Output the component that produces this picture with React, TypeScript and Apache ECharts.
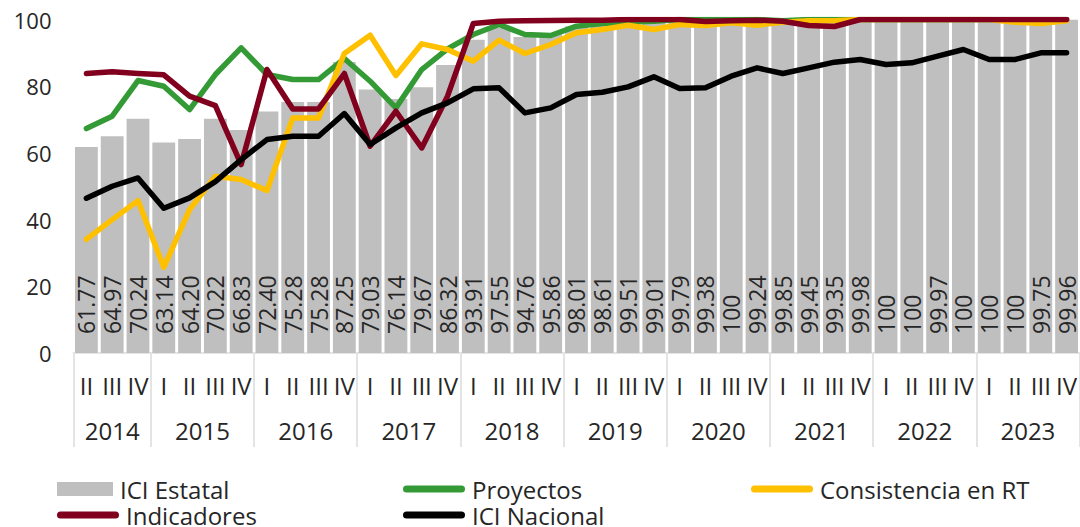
import React, { useEffect, useRef } from "react";
import * as echarts from "echarts";

const quarterLabels = [
  "II", "III", "IV",
  "I", "II", "III", "IV",
  "I", "II", "III", "IV",
  "I", "II", "III", "IV",
  "I", "II", "III", "IV",
  "I", "II", "III", "IV",
  "I", "II", "III", "IV",
  "I", "II", "III", "IV",
  "I", "II", "III", "IV",
  "I", "II", "III", "IV",
];
const yearLabels = ["2014", "2015", "2016", "2017", "2018", "2019", "2020", "2021", "2022", "2023"];

const iciEstatal = [
  61.77, 64.97, 70.24, 63.14, 64.2, 70.22, 66.83, 72.4, 75.28, 75.28, 87.25, 79.03, 76.14,
  79.67, 86.32, 93.91, 97.55, 94.76, 95.86, 98.01, 98.61, 99.51, 99.01, 99.79, 99.38, 100,
  99.24, 99.85, 99.45, 99.35, 99.98, 100, 100, 99.97, 100, 100, 100, 99.75, 99.96,
];
const proyectos = [
  67.3, 71, 81.7, 80, 73, 83.5, 91.5, 83.5, 82, 82, 88.3, 81.5, 73.5, 85, 91.2, 95.5, 98.5,
  95.5, 95.2, 98, 98.8, 99.2, 99.5, 100, 100, 100, 100, 99.6, 100, 100, 100, 100, 100, 100,
  100, 100, 100, 100, 100,
];
const consistencia = [
  34.1, 40, 45.7, 25.7, 43, 53, 52, 48.7, 70.5, 70.5, 89.8, 95.3, 83.2, 92.7, 91, 87.5, 93.8,
  89.8, 92.5, 96, 97, 98.3, 97, 98.5, 98.2, 99, 98.3, 99.2, 99.6, 99.6, 100, 100, 100, 100,
  100, 100, 99.2, 98.8, 99.6,
];
const indicadores = [
  83.8, 84.3, 83.8, 83.4, 77, 74.2, 56.5, 85, 73.2, 73.2, 83.8, 62, 72.5, 61.5, 77, 98.8,
  99.5, 99.6, 99.7, 99.8, 99.8, 100, 100, 100, 99.4, 99.6, 99.8, 99.5, 98.2, 97.9, 100, 100,
  100, 100, 100, 100, 100, 100, 100,
];
const iciNacional = [
  46.4, 50, 52.5, 43.4, 46.5, 51.4, 58, 64, 65, 65, 71.8, 62.5, 67.5, 72, 75, 79.2, 79.5, 72,
  73.5, 77.5, 78.2, 79.8, 82.8, 79.3, 79.5, 83, 85.5, 83.8, 85.5, 87.2, 88, 86.5, 87, 89, 91,
  88, 88, 90, 90,
];

const FONT = "'Open Sans', 'Noto Sans', sans-serif";
const TEXT = "#262626";
const SEP = "#e4e4e4";
const CAPSULE = "path://M3.5,0H58.5A3.5,3.5,0,0,1,58.5,7H3.5A3.5,3.5,0,0,1,3.5,0Z";

export default function App() {
  const ref = useRef<HTMLDivElement>(null);

  useEffect(() => {
    if (!ref.current) return;
    const chart = echarts.init(ref.current, null, { renderer: "svg" });

    const n = quarterLabels.length;
    const bounds: number[] = [0];
    for (let i = 1; i < n; i++) if (quarterLabels[i] === "I") bounds.push(i);
    bounds.push(n);
    const centers: number[] = [];
    for (let k = 0; k < bounds.length - 1; k++) centers.push((bounds[k] + bounds[k + 1]) / 2);

    const lineSeries = (name: string, data: number[], color: string) => ({
      name,
      type: "line",
      data,
      xAxisIndex: 0,
      yAxisIndex: 0,
      showSymbol: false,
      symbol: "none",
      color,
      itemStyle: { color },
      lineStyle: { color, width: 5.5, cap: "round", join: "round" },
    });

    const legendBase = (name: string, left: number, top: number, icon: string, w: number, h: number) => ({
      data: [name],
      left,
      top,
      icon,
      itemWidth: w,
      itemHeight: h,
      padding: 0,
      itemGap: 0,
      selectedMode: false,
      textStyle: { fontFamily: FONT, fontSize: 24, color: TEXT, lineHeight: 24, padding: [0, 0, 0, 2] },
    });

    chart.setOption({
      animation: false,
      textStyle: { fontFamily: FONT },
      grid: { left: 73.5, top: 19.5, width: 1012, height: 333.5 },
      legend: [
        legendBase("ICI Estatal", 57, 477, "rect", 56, 14),
        legendBase("Proyectos", 403, 477, CAPSULE, 62, 7),
        legendBase("Consistencia en RT", 751, 477, CAPSULE, 62, 7),
        legendBase("Indicadores", 57, 503, CAPSULE, 62, 7),
        legendBase("ICI Nacional", 403, 503, CAPSULE, 62, 7),
      ],
      xAxis: [
        {
          type: "category",
          data: quarterLabels,
          position: "bottom",
          axisLine: { show: true, lineStyle: { color: SEP, width: 2 } },
          axisTick: { show: false },
          axisLabel: { interval: 0, fontSize: 24, color: TEXT, margin: 20, fontFamily: FONT },
          splitLine: { show: false },
        },
        {
          type: "value",
          min: 0,
          max: n,
          position: "bottom",
          axisLine: { show: false },
          splitLine: { show: false },
          axisTick: {
            show: true,
            customValues: bounds,
            length: 94,
            lineStyle: { color: SEP, width: 2 },
          },
          axisLabel: {
            show: true,
            customValues: centers,
            margin: 65,
            fontSize: 24,
            color: TEXT,
            fontFamily: FONT,
            formatter: (v: number) => {
              const k = centers.findIndex((c) => Math.abs(c - v) < 1e-6);
              return k >= 0 ? yearLabels[k] : "";
            },
          },
        },
      ],
      yAxis: {
        type: "value",
        min: 0,
        max: 100,
        interval: 20,
        axisLine: { show: false },
        axisTick: { show: false },
        splitLine: { show: false },
        axisLabel: { fontSize: 22, color: TEXT, margin: 22, fontFamily: FONT },
      },
      series: [
        {
          name: "ICI Estatal",
          type: "bar",
          data: iciEstatal,
          xAxisIndex: 0,
          yAxisIndex: 0,
          barCategoryGap: "11.5%",
          color: "#bfbfbf",
          itemStyle: { color: "#bfbfbf" },
          label: {
            show: true,
            position: "insideBottom",
            rotate: 90,
            align: "left",
            verticalAlign: "middle",
            distance: 19,
            fontSize: 23,
            fontFamily: FONT,
            color: TEXT,
            formatter: (p: any) =>
              Number.isInteger(p.value) ? String(p.value) : Number(p.value).toFixed(2),
          },
        },
        lineSeries("Proyectos", proyectos, "#339a35"),
        lineSeries("Consistencia en RT", consistencia, "#ffc000"),
        lineSeries("Indicadores", indicadores, "#80001e"),
        lineSeries("ICI Nacional", iciNacional, "#000000"),
      ],
    });

    return () => chart.dispose();
  }, []);

  return (
    <div
      ref={ref}
      style={{ position: "fixed", left: 0, top: 0, width: 1080, height: 527, background: "#fff" }}
    />
  );
}
